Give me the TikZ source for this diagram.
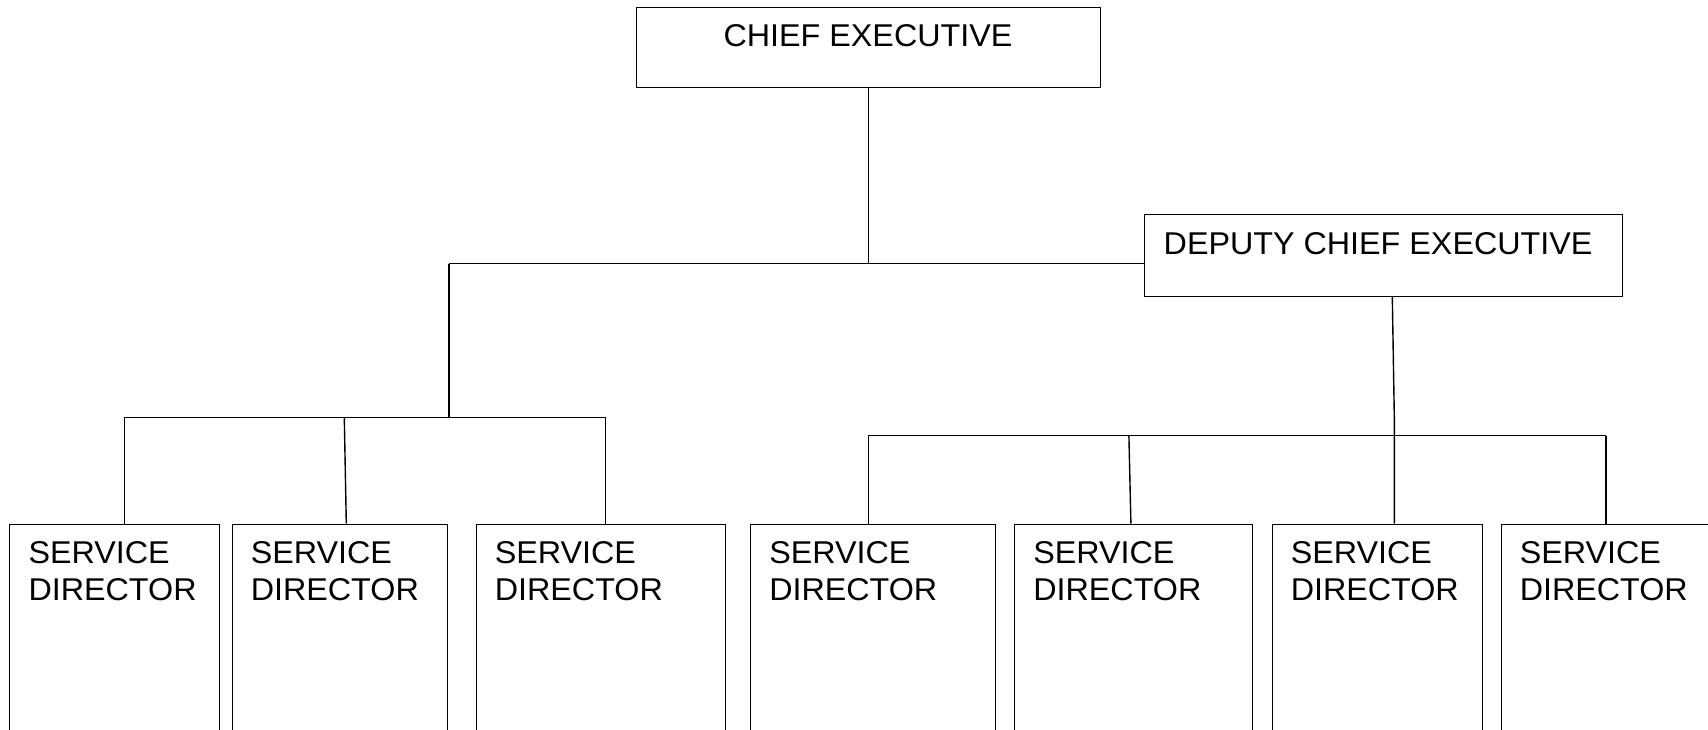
\documentclass[tikz,border=0pt]{standalone}
\usepackage{fontspec}
\setmainfont{Liberation Sans}[FakeStretch=1.025]
\begin{document}
\begin{tikzpicture}[x=1pt,y=-1pt,
  box/.style={draw, line width=0.9pt, rectangle, inner sep=0pt},
  lbl/.style={inner sep=0pt, font=\fontsize{31.5}{37.5}\selectfont},
  wire/.style={line width=1.4pt}]
\useasboundingbox (0,0) rectangle (1708,729);
\clip (0,0) rectangle (1708,729);

% top two posts
\node[box, minimum width=464.7pt, minimum height=79.8pt] (ce) at (868.3,47.4) {};
\node[lbl, anchor=base] (cet) at (868,46.7) {CHIEF EXECUTIVE};
\node[box, minimum width=478.5pt, minimum height=82pt] (dce) at (1383.3,255) {};
\node[lbl, anchor=base west] (dcet) at (1163.5,254) {DEPUTY CHIEF EXECUTIVE};

% service directors (boxes run off the lower edge)
\foreach \n/\cx/\w in {1/114.4/209.2, 2/339.9/215.7, 3/600.8/249.5,
                       4/873.2/245.4, 5/1133.4/237.6, 6/1377.3/210.6, 7/1630.5/259}{
  \node[box, minimum width=\w pt, minimum height=236pt] (sd\n) at (\cx,642) {};
  \node[lbl, anchor=north west, align=left] (sdt\n)
       at ([xshift=19pt,yshift=-17.5pt]sd\n.north west) {SERVICE\\DIRECTOR};
}

% chief executive to left branch and deputy
\coordinate (hub) at (868.3,263.6);
\coordinate (lhub) at (448.8,263.6);
\draw[wire] (ce.south) -- (hub);
\draw[wire] (lhub) -- (hub -| dce.west);

% left group
\coordinate (lb1) at (124.2,417.5);
\coordinate (lb2) at (344.3,417.5);
\coordinate (lb3) at (605.6,417.5);
\draw[wire] (lhub) -- (lhub |- lb1);
\draw[wire] (lb1) -- (lb3);
\draw[wire] (lb1) -- (lb1 |- sd1.north);
\draw[wire] (lb2) -- ([xshift=2pt]lb2 |- sd2.north);
\draw[wire] (lb3) -- (lb3 |- sd3.north);

% right group under the deputy
\coordinate (rb1) at (868.4,435.7);
\coordinate (rb2) at (1128.9,435.7);
\coordinate (rb3) at (1394.3,435.7);
\coordinate (rb4) at (1606,435.7);
\coordinate (rbend) at (1394.3,417);
\draw[wire] ([xshift=-2pt]rb3 |- dce.south) -- (rbend) -- (rb3 |- sd6.north);
\draw[wire] (rb1) -- (rb4);
\draw[wire] (rb1) -- (rb1 |- sd4.north);
\draw[wire] (rb2) -- ([xshift=2pt]rb2 |- sd5.north);
\draw[wire] (rb4) -- (rb4 |- sd7.north);
\end{tikzpicture}
\end{document}
